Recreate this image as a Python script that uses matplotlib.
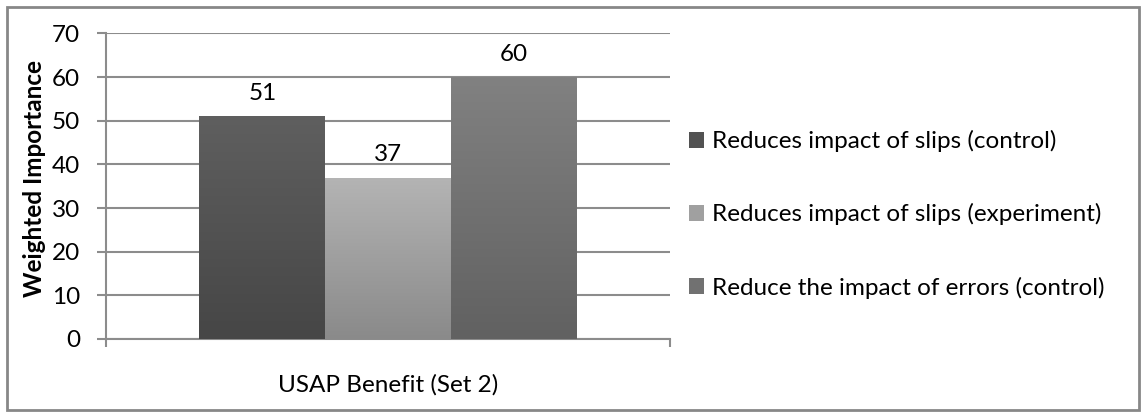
import matplotlib.pyplot as plt
import numpy as np
from matplotlib.patches import Patch, Rectangle
from matplotlib.colors import LinearSegmentedColormap

plt.rcParams['font.family'] = ['Lato', 'DejaVu Sans']

category = "USAP Benefit (Set 2)"
series = ["Reduces impact of slips (control)",
          "Reduces impact of slips (experiment)",
          "Reduce the impact of errors (control)"]
values = [51, 37, 60]
# (bottom colour, top colour) of each bar's gradient
grads = [("#464646", "#5f5f5f"), ("#8a8a8a", "#b4b4b4"), ("#616161", "#818181")]
mids = ["#525252", "#a0a0a0", "#717171"]
yticks = [0, 10, 20, 30, 40, 50, 60, 70]

fs = 17.5

fig = plt.figure(figsize=(11.44, 4.12), dpi=100)
ax = fig.add_axes([0.0927, 0.1772, 0.4930, 0.7415])

grid_col = "#8c8c8c"
pos = np.arange(len(values)) - (len(values) - 1) / 2
bars = ax.bar(pos, values, width=1.0, color="none", edgecolor="none", zorder=3)

# gradient fill clipped to each bar
for b, (c0, c1) in zip(bars, grads):
    cmap = LinearSegmentedColormap.from_list("g", [c0, c1])
    x0, y0, w, h = b.get_x(), b.get_y(), b.get_width(), b.get_height()
    img = ax.imshow(np.linspace(0, 1, 256).reshape(-1, 1), cmap=cmap, aspect="auto",
                    origin="lower", extent=[x0, x0 + w, y0, y0 + h], zorder=3)
    img.set_clip_path(b)

ax.bar_label(bars, labels=[str(v) for v in values], padding=9, fontsize=fs)

half = len(values) / 2 * 1.0 + 0.743
ax.set_xlim(-half, half)
ax.set_ylim(0, 70)
ax.set_yticks(yticks)
ax.set_xticks([0])
ax.set_xticklabels([category])
ax.set_xticks([-half, half], minor=True)
ax.tick_params(axis="x", which="major", length=0, pad=25, labelsize=fs)
ax.tick_params(axis="x", which="minor", length=6, width=1.5, color=grid_col)
ax.tick_params(axis="y", length=6.5, width=1.5, color=grid_col, pad=12, labelsize=fs)

ax.yaxis.grid(True, color=grid_col, linewidth=1.5, zorder=0)
ax.set_axisbelow(True)
for s in ["top", "right"]:
    ax.spines[s].set_visible(False)
for s in ["left", "bottom"]:
    ax.spines[s].set_color(grid_col)
    ax.spines[s].set_linewidth(1.5)

ax.set_ylabel("Weighted Importance", fontsize=fs, fontweight="bold")
ax.yaxis.set_label_coords(-0.106, 0.526)

handles = [Patch(facecolor=c, edgecolor="none") for c in mids]
fig.legend(handles, series, loc="upper left", bbox_to_anchor=(0.602, 0.684),
           frameon=False, fontsize=fs, handlelength=0.62, handleheight=0.62,
           handletextpad=0.35, labelspacing=2.1, borderaxespad=0, borderpad=0)

# outer chart border
fig.patches.append(Rectangle((0.006, 0.005), 0.99, 0.978, transform=fig.transFigure,
                             fill=False, edgecolor="#878787", linewidth=2))

fig.savefig("out.png", dpi=100)
